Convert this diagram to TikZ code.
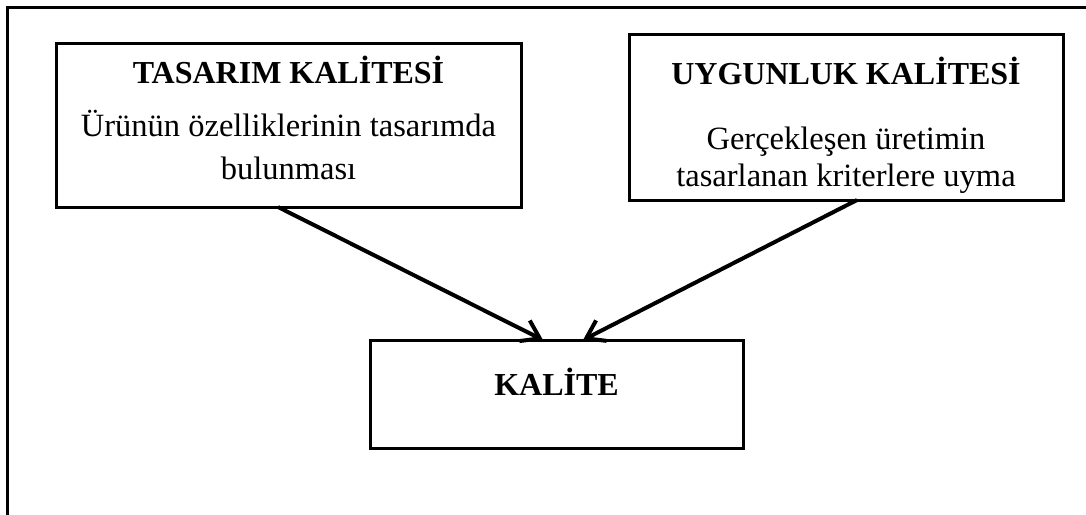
\documentclass[tikz,border=0pt]{standalone}
\usepackage{fontspec}
\setmainfont{Liberation Serif}
\usetikzlibrary{arrows.meta}
\begin{document}
\begin{tikzpicture}[x=1pt,y=-1pt,
  box/.style={draw,line width=3pt,rectangle,inner sep=0pt,outer sep=0pt},
  ttl/.style={anchor=base,inner sep=0pt,font=\fontsize{32}{36}\selectfont\bfseries},
  txt/.style={anchor=base,inner sep=0pt,font=\fontsize{32.5}{40}\selectfont},
  arr/.style={line width=4pt,-{Straight Barb[length=17pt,width=23pt]}},
  frame/.style={line width=3pt}]
\useasboundingbox (0,0) rectangle (1086,514);
\fill[white] (0,0) rectangle (1086,514);
\draw[frame] (1092,7) -- (7,7) -- (7,520);
% boxes
\node[box,minimum width=465pt,minimum height=164pt] (tasarim) at (288.5,125) {};
\node[box,minimum width=434pt,minimum height=166pt] (uygun) at (846,117) {};
\node[box,minimum width=373pt,minimum height=108pt] (kalite) at (556.5,394) {};
% texts
\node[ttl] (t1) at (288.5,83) {TASARIM KALİTESİ};
\node[txt] (b1a) at (288.5,136) {Ürünün özelliklerinin tasarımda};
\node[txt] (b1b) at (288.5,179) {bulunması};
\node[ttl] (t2) at (846,84) {UYGUNLUK KALİTESİ};
\node[txt] (b2a) at (846,149) {Gerçekleşen üretimin};
\node[txt] (b2b) at (846,186) {tasarlanan kriterlere uyma};
\node[ttl] (t3) at (556.5,395) {KALİTE};
% arrows
\draw[arr] ([xshift=-10.5pt]tasarim.south) -- ([xshift=-13.5pt]kalite.north);
\draw[arr] ([xshift=11pt]uygun.south) -- ([xshift=26.5pt]kalite.north);
\end{tikzpicture}
\end{document}
